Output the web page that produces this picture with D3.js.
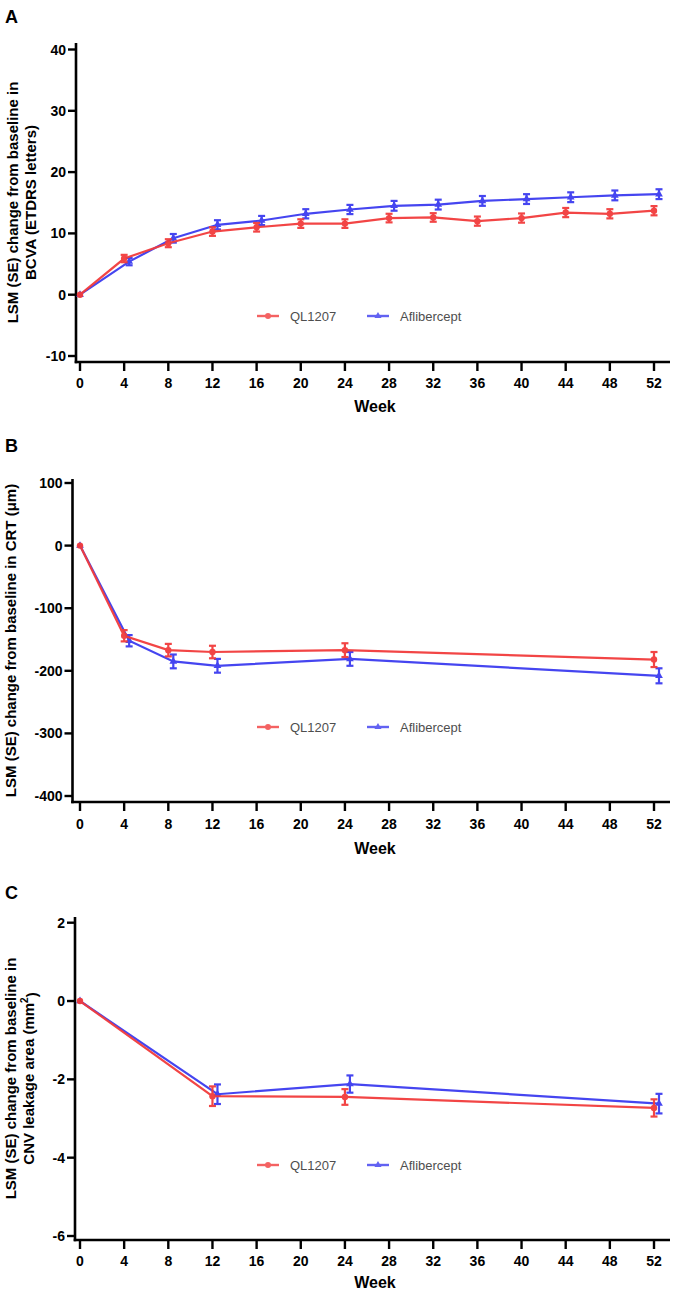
<!DOCTYPE html>
<html><head><meta charset="utf-8">
<script src="https://cdn.jsdelivr.net/npm/d3@7"></script>
<style>
html,body{margin:0;padding:0;background:#fff;}
svg{display:block;font-family:"Liberation Sans",Arial,sans-serif;}
</style></head>
<body>
<svg id="chart" width="685" height="1293"></svg>
<script>
// ---------- DATA ----------
const seriesNames = ["QL1207", "Aflibercept"];
const xTicks = [0,4,8,12,16,20,24,28,32,36,40,44,48,52];

const weeksA = [0,4,8,12,16,20,24,28,32,36,40,44,48,52];
const qlA    = [0,5.9,8.4,10.3,11.0,11.6,11.6,12.5,12.6,12.0,12.5,13.4,13.2,13.7];
const qlAse  = [0,0.6,0.65,0.7,0.7,0.7,0.7,0.7,0.7,0.75,0.75,0.75,0.75,0.75];
const afA    = [0,5.4,9.2,11.4,12.1,13.2,13.9,14.5,14.7,15.3,15.6,15.9,16.2,16.4];
const afAse  = [0,0.6,0.7,0.75,0.75,0.75,0.75,0.8,0.8,0.8,0.8,0.8,0.8,0.8];
const yTicksA = [-10,0,10,20,30,40];

const weeksB = [0,4,8,12,24,52];
const qlB    = [0,-144,-167,-170,-167,-182];
const qlBse  = [0,9,10,10,11,12];
const afB    = [0,-152,-185,-192,-181,-208];
const afBse  = [0,9,11,11,11,12];
const yTicksB = [-400,-300,-200,-100,0,100];

const weeksC = [0,12,24,52];
const qlC    = [0,-2.43,-2.45,-2.73];
const qlCse  = [0,0.25,0.2,0.22];
const afC    = [0,-2.38,-2.12,-2.62];
const afCse  = [0,0.25,0.22,0.25];
const yTicksC = [-6,-4,-2,0,2];

// ---------- STYLE ----------
const RED = "#f23c3c", BLUE = "#3c3cf0";
const svg = d3.select("#chart");

function panel(cfg){
  const g = svg.append("g");
  const x = d3.scaleLinear().domain([0,52]).range([80,654]);
  const y = d3.scaleLinear().domain(cfg.yDomain).range(cfg.yRange);
  const axX = cfg.axisX, top = cfg.axisTop, bot = cfg.axisBottom;

  g.append("text").attr("x",5).attr("y",cfg.letterY).attr("font-size",18).attr("font-weight","bold").text(cfg.letter);

  // y axis
  g.append("line").attr("x1",axX).attr("x2",axX).attr("y1",top).attr("y2",bot+1.2)
    .attr("stroke","#000").attr("stroke-width",2.6);
  cfg.yTicks.forEach(t=>{
    g.append("line").attr("x1",axX-8).attr("x2",axX).attr("y1",y(t)).attr("y2",y(t))
      .attr("stroke","#000").attr("stroke-width",2.4);
    g.append("text").attr("x",axX-10).attr("y",y(t)).attr("dy","0.36em")
      .attr("text-anchor","end").attr("font-size",14).attr("font-weight","bold").text(t);
  });
  // x axis
  g.append("line").attr("x1",axX-1.3).attr("x2",670).attr("y1",bot).attr("y2",bot)
    .attr("stroke","#000").attr("stroke-width",2.6);
  xTicks.forEach(t=>{
    g.append("line").attr("x1",x(t)).attr("x2",x(t)).attr("y1",bot).attr("y2",bot+9)
      .attr("stroke","#000").attr("stroke-width",2.4);
    g.append("text").attr("x",x(t)).attr("y",bot+cfg.tickDy).attr("dy","0.36em")
      .attr("text-anchor","middle").attr("font-size",14).attr("font-weight","bold").text(t);
  });
  g.append("text").attr("x",375).attr("y",bot+cfg.weekDy).attr("dy","0.36em")
    .attr("text-anchor","middle").attr("font-size",16).attr("font-weight","bold").text("Week");

  // y label
  const cy = (top+bot)/2;
  cfg.yLabel.forEach((ln,i)=>{
    const t = g.append("text").attr("transform",`translate(${cfg.labelX[i]},${cy}) rotate(-90)`)
      .attr("text-anchor","middle").attr("dy","0.36em").attr("font-size",15).attr("font-weight","bold");
    if (typeof ln === "string") t.text(ln);
    else { t.append("tspan").text(ln[0]); t.append("tspan").attr("font-size",10).attr("dy","-0.6em").text(ln[1]);
           t.append("tspan").attr("dy","0.6em").text(ln[2]); }
  });

  // series
  const series = [
    {name:seriesNames[1], w:cfg.weeks, v:cfg.af, se:cfg.afse, color:BLUE, dodge:5, shape:"tri"},
    {name:seriesNames[0], w:cfg.weeks, v:cfg.ql, se:cfg.qlse, color:RED, dodge:0, shape:"circ"}
  ];
  series.forEach(s=>{
    const pts = s.w.map((w,i)=>({x:x(w)+(w===0?0:s.dodge), y:y(s.v[i]), lo:y(s.v[i]-s.se[i]), hi:y(s.v[i]+s.se[i]), se:s.se[i]}));
    const sg = g.append("g").attr("opacity",0.95);
    sg.append("path").datum(pts).attr("fill","none").attr("stroke",s.color).attr("stroke-width",2.2)
      .attr("d",d3.line().x(d=>d.x).y(d=>d.y));
    pts.filter(d=>d.se>0).forEach(d=>{
      sg.append("line").attr("x1",d.x).attr("x2",d.x).attr("y1",d.lo).attr("y2",d.hi).attr("stroke",s.color).attr("stroke-width",2.2);
      [d.lo,d.hi].forEach(yy=>sg.append("line").attr("x1",d.x-3.5).attr("x2",d.x+3.5).attr("y1",yy).attr("y2",yy)
        .attr("stroke",s.color).attr("stroke-width",2.2));
    });
    pts.forEach(d=>{
      if (s.shape==="circ") sg.append("circle").attr("cx",d.x).attr("cy",d.y).attr("r",3.2).attr("fill",s.color);
      else sg.append("path").attr("transform",`translate(${d.x},${d.y})`)
        .attr("d",d3.symbol().type(d3.symbolTriangle).size(26)()).attr("fill",s.color);
    });
  });

  // legend
  const ly = cfg.legendY;
  const leg = g.append("g").attr("opacity",0.8);
  const items = [{name:seriesNames[0],c:RED,x0:257,tx:290,shape:"circ"},{name:seriesNames[1],c:BLUE,x0:367,tx:400,shape:"tri"}];
  items.forEach(it=>{
    leg.append("line").attr("x1",it.x0).attr("x2",it.x0+22).attr("y1",ly).attr("y2",ly).attr("stroke",it.c).attr("stroke-width",2.4);
    if (it.shape==="circ") leg.append("circle").attr("cx",it.x0+11).attr("cy",ly).attr("r",3).attr("fill",it.c);
    else leg.append("path").attr("transform",`translate(${it.x0+11},${ly})`).attr("d",d3.symbol().type(d3.symbolTriangle).size(22)()).attr("fill",it.c);
    leg.append("text").attr("x",it.tx).attr("y",ly).attr("dy","0.36em").attr("font-size",13).attr("fill","#222").text(it.name);
  });
}

panel({letter:"A", letterY:23, yDomain:[-10,40], yRange:[356,49.5], axisX:76, axisTop:43, axisBottom:362,
  yTicks:yTicksA, weeks:weeksA, ql:qlA, qlse:qlAse, af:afA, afse:afAse, legendY:316, tickDy:21, weekDy:44,
  yLabel:["LSM (SE) change from baseline in","BCVA (ETDRS letters)"], labelX:[12.5,31]});
panel({letter:"B", letterY:452, yDomain:[-400,100], yRange:[796,483], axisX:72.5, axisTop:479, axisBottom:802, tickDy:21.5, weekDy:46,
  yTicks:yTicksB, weeks:weeksB, ql:qlB, qlse:qlBse, af:afB, afse:afBse, legendY:727,
  yLabel:["LSM (SE) change from baseline in CRT (μm)"], labelX:[11]});
panel({letter:"C", letterY:899, yDomain:[-6,2], yRange:[1236,922.7], axisX:75, axisTop:917, axisBottom:1240, tickDy:20.5, weekDy:42,
  yTicks:yTicksC, weeks:weeksC, ql:qlC, qlse:qlCse, af:afC, afse:afCse, legendY:1165,
  yLabel:["LSM (SE) change from baseline in",["CNV leakage area (mm","2",")"]], labelX:[11,29]});
</script>
</body></html>
